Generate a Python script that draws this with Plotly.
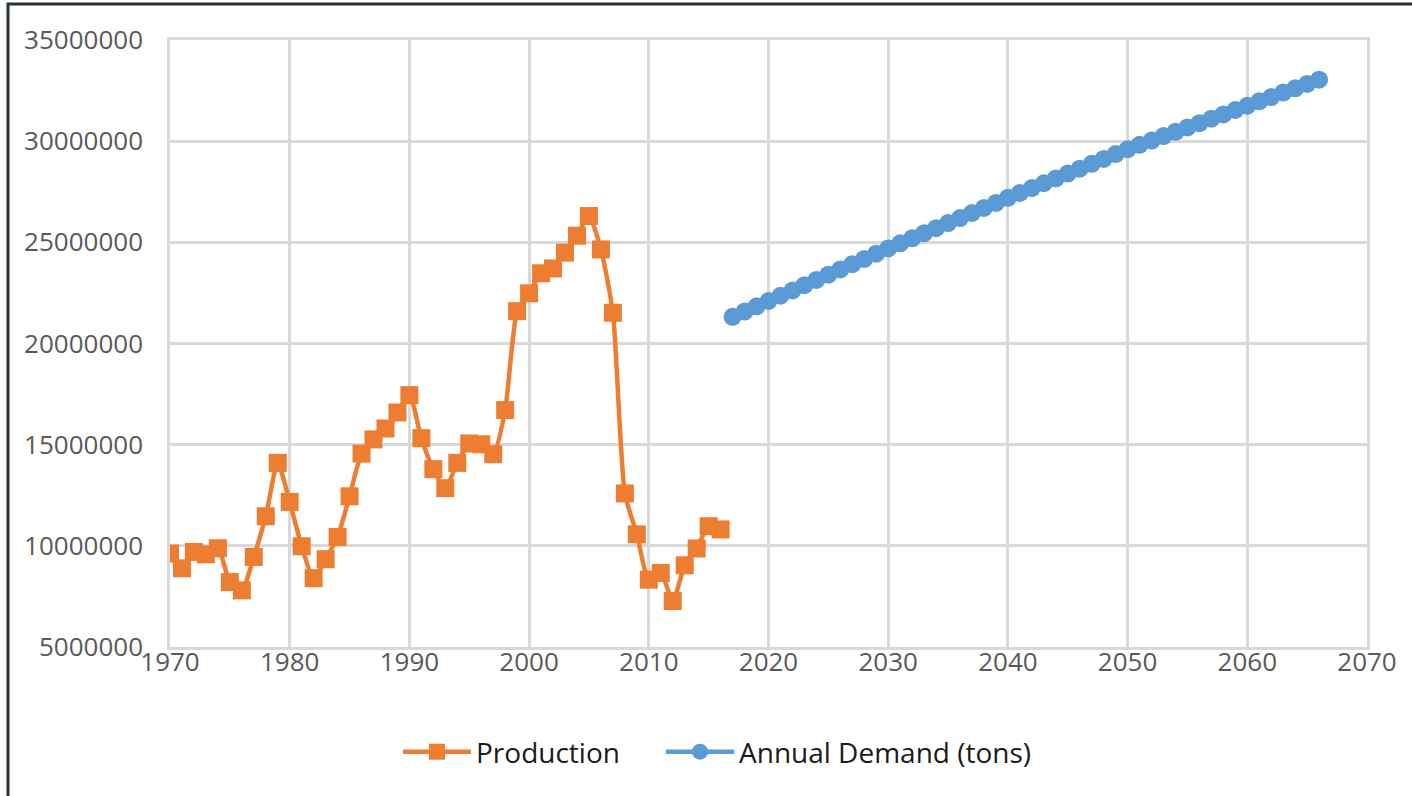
import plotly.graph_objects as go

# ---- data ----
prod_years = list(range(1970, 2017))
production = [
    9.62, 8.89, 9.70, 9.58, 9.88, 8.21, 7.80, 9.45, 11.46, 14.10,
    12.17, 9.98, 8.40, 9.34, 10.44, 12.45, 14.56, 15.26, 15.80, 16.59,
    17.45, 15.32, 13.79, 12.85, 14.10, 15.06, 15.02, 14.53, 16.71, 21.60,
    22.48, 23.47, 23.71, 24.49, 25.33, 26.30, 24.65, 21.52, 12.59, 10.57,
    8.33, 8.66, 7.27, 9.04, 9.87, 10.97, 10.81,
]
production = [v * 1e6 for v in production]

demand_years = list(range(2017, 2067))
demand = [
    21.32, 21.58, 21.84, 22.10, 22.36, 22.62, 22.88, 23.14, 23.40, 23.66,
    23.92, 24.18, 24.44, 24.70, 24.95, 25.20, 25.45, 25.70, 25.95, 26.20,
    26.45, 26.70, 26.95, 27.20, 27.44, 27.68, 27.92, 28.16, 28.40, 28.64,
    28.88, 29.12, 29.36, 29.60, 29.82, 30.03, 30.25, 30.46, 30.68, 30.89,
    31.11, 31.32, 31.54, 31.75, 31.97, 32.18, 32.40, 32.61, 32.83, 33.04,
]
demand = [v * 1e6 for v in demand]

series_names = ["Production", "Annual Demand (tons)"]
x_ticks = list(range(1970, 2071, 10))
y_ticks = list(range(5000000, 35000001, 5000000))

ORANGE = "#ED7D31"
BLUE = "#5B9BD5"
GRID = "#d9d9d9"

fig = go.Figure()
fig.add_trace(go.Scatter(
    x=prod_years, y=production, name=series_names[0],
    mode="lines+markers", legend="legend",
    line=dict(color=ORANGE, width=4.5, shape="spline", smoothing=0.6),
    marker=dict(symbol="square", size=18, color=ORANGE),
))
fig.add_trace(go.Scatter(
    x=demand_years, y=demand, name=series_names[1],
    mode="lines+markers", legend="legend2",
    line=dict(color=BLUE, width=4.5, shape="spline", smoothing=0.6),
    marker=dict(symbol="circle", size=18, color=BLUE),
))

W, H = 1412, 796
L, R, T, B = 170, 45, 40, 149
pw, ph = W - L - R, H - T - B

tickfont = dict(family="Open Sans, DejaVu Sans, sans-serif", size=26, color="#595959")
legfont = dict(family="Open Sans, DejaVu Sans, sans-serif", size=28, color="#1a1a1a")

fig.update_layout(
    width=W, height=H,
    margin=dict(l=L, r=R, t=T, b=B, autoexpand=False),
    paper_bgcolor="white", plot_bgcolor="white",
    showlegend=True,
    legend=dict(
        orientation="h", x=(398 - L) / pw, xanchor="left",
        y=(H - B - 752) / ph, yanchor="middle",
        font=legfont, itemsizing="trace", bgcolor="rgba(0,0,0,0)",
        itemwidth=68,
    ),
    legend2=dict(
        orientation="h", x=(661 - L) / pw, xanchor="left",
        y=(H - B - 752) / ph, yanchor="middle",
        font=legfont, itemsizing="trace", bgcolor="rgba(0,0,0,0)",
        itemwidth=68,
    ),
    xaxis=dict(
        range=[1970, 2070], tickvals=x_ticks, ticktext=[str(v) for v in x_ticks],
        showgrid=True, gridcolor=GRID, gridwidth=2.5,
        showline=True, linecolor=GRID, linewidth=2.5, mirror=True,
        zeroline=False, ticks="", tickfont=tickfont, automargin=False,
        ticklabelstandoff=-10,
    ),
    yaxis=dict(
        range=[5000000, 35000000], tickvals=y_ticks, ticktext=[str(v) for v in y_ticks],
        showgrid=True, gridcolor=GRID, gridwidth=2.5,
        showline=True, linecolor=GRID, linewidth=2.5, mirror=True,
        zeroline=False, ticks="", tickfont=tickfont, automargin=False,
        ticklabelstandoff=19,
    ),
    shapes=[dict(
        type="rect", xref="paper", yref="paper",
        x0=(8 - L) / pw, x1=1.2, y0=-0.6, y1=1 + (T - 4) / ph,
        line=dict(color="#27313a", width=3), fillcolor="rgba(0,0,0,0)", layer="above",
    )],
)

fig.write_html("out.html", config={"displayModeBar": False},
               post_script="document.body.style.margin='0';")
